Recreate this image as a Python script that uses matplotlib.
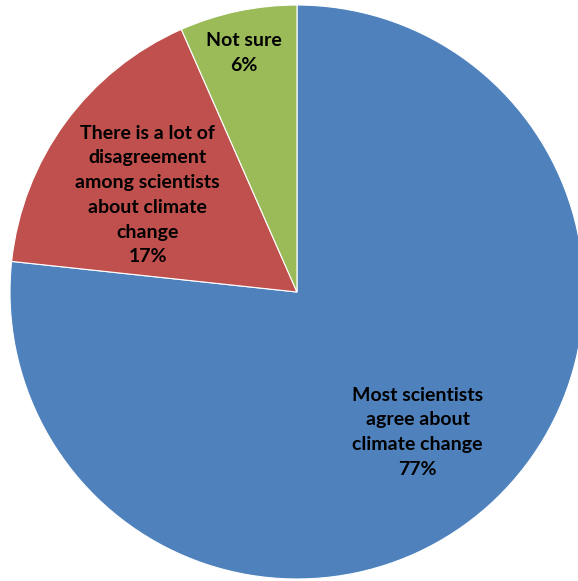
import matplotlib.pyplot as plt

# shares of answers (slice sizes, labels as printed)
labels = ["Most scientists\nagree about\nclimate change", "There is a lot of\ndisagreement\namong scientists\nabout climate\nchange", "Not sure"]
values = [76.7, 16.7, 6.6]
pct_labels = ["77%", "17%", "6%"]
colors = ["#4F81BD", "#C0504D", "#9BBB59"]

fig = plt.figure(figsize=(5.78, 5.81), dpi=100)
ax = fig.add_axes([0.0173, 0.0034, 0.993, 0.988])

wedges, _ = ax.pie(values, colors=colors, startangle=90, counterclock=False,
                   radius=1.0, wedgeprops=dict(edgecolor="white", linewidth=0.8))

# label positions (in pie units)
pos = [(0.42, -0.488), (-0.52, 0.338), (-0.185, 0.833)]
for lab, p, (x, y) in zip(labels, pct_labels, pos):
    ax.text(x, y, f"{lab}\n{p}", ha="center", va="center", fontsize=14,
            fontweight="bold", family="Lato", color="black", linespacing=1.55)

ax.set_xlim(-1, 1)
ax.set_ylim(-1, 1)
ax.set_aspect("equal")
ax.axis("off")

fig.savefig("out.png", dpi=100)
